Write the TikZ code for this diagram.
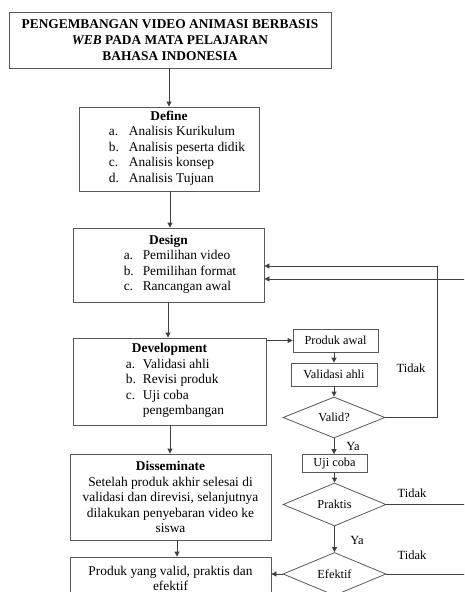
\documentclass[tikz,border=0pt]{standalone}
\usepackage{fontspec}
\setmainfont{Liberation Serif}
\usetikzlibrary{arrows.meta,shapes.geometric}
\newcommand\itm[3][20pt]{\makebox[#1][l]{#2}#3}
\begin{document}
\begin{tikzpicture}[x=1pt,y=-1pt,
  box/.style={draw=black!65,line width=0.8pt,inner sep=2pt,align=center,font=\fontsize{13.4}{15.5}\selectfont},
  sbox/.style={draw=black!65,line width=0.8pt,inner sep=1pt,font=\fontsize{12.3}{14}\selectfont},
  dia/.style={diamond,draw=black!65,line width=0.8pt,inner sep=0pt,font=\fontsize{12.3}{14}\selectfont},
  lbl/.style={font=\fontsize{12.5}{14}\selectfont,inner sep=0pt},
  conn/.style={draw=black!75,line width=0.8pt},
  arr/.style={conn,-{Triangle[length=5pt,width=5pt]}}]
\useasboundingbox (0,0) rectangle (464,592);
\clip (0,0) rectangle (464,592);

% left column
\node[box, font=\fontsize{13.4}{16}\selectfont\bfseries, minimum width=322pt, minimum height=56pt] (title) at (170,40)
  {PENGEMBANGAN VIDEO ANIMASI BERBASIS\\ \textit{WEB} PADA MATA PELAJARAN\\ BAHASA INDONESIA};

\node[box, minimum width=180pt, minimum height=84pt] (def) at (169,149)
  {\textbf{Define}\\\hspace*{16pt}\begin{tabular}[t]{@{}l@{}}\itm{a.}{Analisis Kurikulum}\\ \itm{b.}{Analisis peserta didik}\\ \itm{c.}{Analisis konsep}\\ \itm{d.}{Analisis Tujuan}\end{tabular}};

\node[box, minimum width=191pt, minimum height=74pt] (des) at (168.5,265)
  {\textbf{Design}\\\hspace*{23pt}\begin{tabular}[t]{@{}l@{}}\itm[19pt]{a.}{Pemilihan video}\\ \itm[19pt]{b.}{Pemilihan format}\\ \itm[19pt]{c.}{Rancangan awal}\end{tabular}};

\node[box, minimum width=193pt, minimum height=87pt] (dev) at (169.5,381.5)
  {\textbf{Development}\\\hspace*{11pt}\begin{tabular}[t]{@{}l@{}}\itm[17pt]{a.}{Validasi ahli}\\ \itm[17pt]{b.}{Revisi produk}\\ \itm[17pt]{c.}{Uji coba}\\ \itm[17pt]{}{pengembangan}\end{tabular}};

\node[box, minimum width=201pt, minimum height=86pt] (dis) at (170.5,497)
  {\textbf{Disseminate}\\Setelah produk akhir selesai di\\validasi dan direvisi, selanjutnya\\dilakukan penyebaran video ke\\siswa};

\node[box, minimum width=201pt, minimum height=43pt] (fin) at (170.5,578.5)
  {Produk yang valid, praktis dan\\efektif};

% right column
\node[sbox, minimum width=85pt, minimum height=23pt] (pa) at (335.5,340.5) {Produk awal};
\node[sbox, minimum width=86pt, minimum height=23pt] (va) at (334,374.5) {Validasi ahli};
\node[dia, minimum width=102pt, minimum height=41pt] (vq) at (334,417.5) {Valid?};
\node[sbox, minimum width=65pt, minimum height=18pt] (uc) at (334.5,463.5) {Uji coba};
\node[dia, minimum width=103pt, minimum height=43pt] (pr) at (334.5,504.5) {Praktis};
\node[dia, minimum width=103pt, minimum height=43pt] (ef) at (334.5,574) {Efektif};

% labels
\node[lbl] (t1) at (411,368) {Tidak};
\node[lbl] (y1) at (353,446) {Ya};
\node[lbl] (t2) at (412,493) {Tidak};
\node[lbl] (y2) at (357,540) {Ya};
\node[lbl] (t3) at (412,555) {Tidak};

% off-page return line
\coordinate (r1) at (472,279);
\coordinate (r2) at (472,504.5);
\coordinate (r3) at (472,574);

% connectors left column
\draw[arr] (title.south -| 169,0) -- (def.north -| 169,0);
\draw[arr] (def.south -| 170,0) -- (des.north -| 170,0);
\draw[arr] (des.south -| 168,0) -- (dev.north -| 168,0);
\draw[arr] (dev.south -| 170,0) -- (dis.north -| 170,0);
\draw[arr] (dis.south -| 177,0) -- (fin.north -| 177,0);

% connectors right column
\draw[arr] (pa.west -| dev.east) -- (pa.west);
\draw[arr] (pa.south -| va.north) -- (va.north);
\draw[arr] (va.south) -- (vq.north);
\draw[arr] (vq.south) -- (uc.north -| vq.south);
\draw[arr] (uc.south -| pr.north) -- (pr.north);
\draw[arr] (pr.south) -- (ef.north);
\draw[arr] (ef.west) -- (ef.west -| fin.east);

% feedback loops
\draw[arr] (vq.east) -- (437,417.5) -- (437,266) -- (des.east |- 0,266);
\draw[arr] (r1) -- (des.east |- r1);
\draw[conn] (pr.east) -- (r2);
\draw[conn] (ef.east) -- (r3) -- (r2) -- (r1);
\end{tikzpicture}
\end{document}
